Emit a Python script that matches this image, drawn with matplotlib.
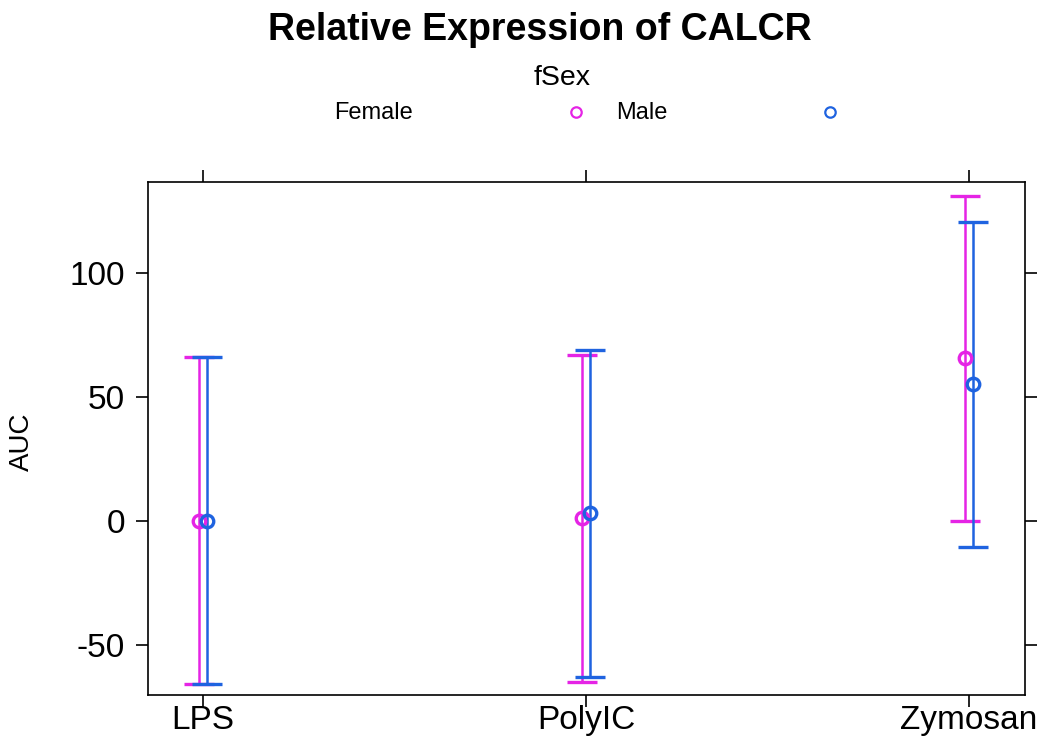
import matplotlib.pyplot as plt
import numpy as np

plt.rcParams['font.family'] = ['Liberation Sans', 'DejaVu Sans']
plt.rcParams['axes.unicode_minus'] = False

# data
treatments = ['LPS', 'PolyIC', 'Zymosan']
sexes = ['Female', 'Male']
female_auc = [0, 1, 65.5]
male_auc = [0, 3, 55]
female_err = [66, 66, 65.5]
male_err = [66, 66, 65.5]

colors = {'Female': '#e524e5', 'Male': '#1f63e0'}
offsets = {'Female': -0.011, 'Male': 0.011}

fig = plt.figure(figsize=(10.41, 7.55), dpi=100)
ax = fig.add_axes([0.1422, 0.0795, 0.8424, 0.6795])

x = np.arange(1, len(treatments) + 1)
for sex, vals, errs in [('Female', female_auc, female_err), ('Male', male_auc, male_err)]:
    ax.errorbar(x + offsets[sex], vals, yerr=errs, fmt='o', color=colors[sex],
                mfc='none', mec=colors[sex], ms=9, mew=2.4, elinewidth=1.8,
                capsize=11, capthick=1.8)

ax.set_xlim(0.856, 3.146)
ax.set_ylim(-70.3, 136.6)
ax.set_xticks(x)
ax.set_xticklabels(treatments)
ax.set_yticks([-50, 0, 50, 100])
ax.tick_params(direction='out', length=8.5, width=1.2, labelsize=24,
               top=True, right=True, labeltop=False, labelright=False)
ax.tick_params(axis='x', pad=-1)
ax.tick_params(axis='y', pad=8)
for s in ax.spines.values():
    s.set_linewidth(1.2)

fig.text(22 / 1041, 1 - 442 / 755, 'AUC', rotation=90, ha='center', va='center', fontsize=20)
fig.text(540 / 1041, 1 - 30 / 755, 'Relative Expression of CALCR', ha='center', va='center',
         fontsize=27, fontweight='bold')
fig.text(562 / 1041, 1 - 78 / 755, 'fSex', ha='center', va='center', fontsize=20.5)

# legend laid out as in the lattice key
leg = fig.add_axes([0, 0.83, 1, 0.04])
leg.set_xlim(0, 1041)
leg.set_ylim(0, 1)
leg.axis('off')
leg.text(373, 0.5, 'Female', ha='center', va='center', fontsize=17)
leg.plot([576], [0.55], 'o', mfc='none', mec=colors['Female'], ms=7.5, mew=1.6)
leg.text(642, 0.5, 'Male', ha='center', va='center', fontsize=17)
leg.plot([830], [0.55], 'o', mfc='none', mec=colors['Male'], ms=7.5, mew=1.6)

fig.savefig('out.png', dpi=100)
